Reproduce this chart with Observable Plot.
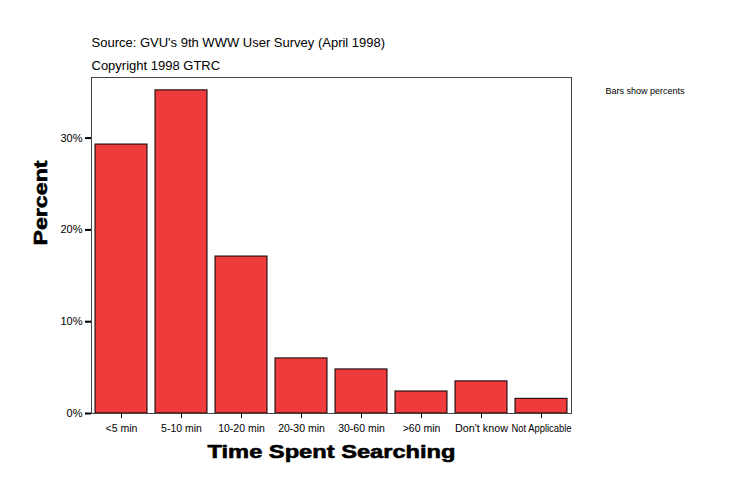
<!DOCTYPE html>
<html><head><meta charset="utf-8">
<script src="https://cdn.jsdelivr.net/npm/d3@7"></script>
<script src="https://cdn.jsdelivr.net/npm/@observablehq/plot@0.6"></script>
<style>
html,body{margin:0;padding:0;background:#fff;}
svg{display:block;}
</style>
</head><body>
<div id="chart"></div>
<script>
const categories = ["<5 min","5-10 min","10-20 min","20-30 min","30-60 min",">60 min","Don't know","Not Applicable"];
const percents = [29.3, 35.2, 17.1, 6.0, 4.8, 2.4, 3.5, 1.6];
const yTicks = [0, 10, 20, 30];
const yTickLabels = ["0%", "10%", "20%", "30%"];
const title = "Source: GVU's 9th WWW User Survey (April 1998)";
const subtitle = "Copyright 1998 GTRC";
const note = "Bars show percents";
const xLabel = "Time Spent Searching";
const yLabel = "Percent";

const data = categories.map((c, i) => ({category: c, value: percents[i]}));

const chart = Plot.plot({
  width: 734,
  height: 496,
  marginLeft: 91,
  marginRight: 163,
  marginTop: 77,
  marginBottom: 83,
  style: {fontFamily: "'Liberation Sans', Arial, sans-serif", fontSize: "11px", background: "#fff", color: "#000"},
  x: {domain: categories, paddingInner: 8/60, paddingOuter: 4/60, align: 0.5, label: null},
  y: {domain: [0, 36.6], label: null},
  marks: [
    Plot.barY(data, {x: "category", y: "value", fill: "#EE3B3B", stroke: "#000", strokeWidth: 1}),
    Plot.frame({stroke: "#444", strokeWidth: 1}),
    Plot.axisY({ticks: yTicks, tickFormat: (d) => yTickLabels[yTicks.indexOf(d)], tickSize: 6, tickPadding: 3, strokeWidth: 2, fontSize: 11, label: null}),
    Plot.axisX({tickSize: 5, tickPadding: 6, fontSize: 10.5, label: null, className: "xax"}),
    Plot.text([title], {frameAnchor: "top-left", dy: -40, text: d => d, textAnchor: "start", fontSize: 13}),
    Plot.text([subtitle], {frameAnchor: "top-left", dy: -17, text: d => d, textAnchor: "start", fontSize: 13}),
    Plot.text([note], {frameAnchor: "top-right", dx: 34, dy: 10, text: d => d, textAnchor: "start", fontSize: 9}),
    Plot.text([xLabel], {frameAnchor: "bottom", dy: 44, text: d => d, fontSize: 19, fontWeight: "bold", stroke: "#000", strokeWidth: 0.6, fill: "#000", className: "xlab"}),
    Plot.text([yLabel], {frameAnchor: "left", dx: -51, rotate: -90, text: d => d, fontSize: 19, fontWeight: "bold", stroke: "#000", strokeWidth: 0.6, fill: "#000", className: "ylab"})
  ]
});
document.getElementById("chart").appendChild(chart);
d3.select(chart).selectAll(".xlab text").attr("textLength", 248).attr("lengthAdjust", "spacingAndGlyphs");
d3.select(chart).selectAll(".ylab text").attr("textLength", 85).attr("lengthAdjust", "spacingAndGlyphs");
d3.select(chart).selectAll(".xax text").each(function() {
  const t = d3.select(this);
  if (t.text() === "Not Applicable") t.attr("textLength", 60).attr("lengthAdjust", "spacingAndGlyphs");
  if (t.text() === "Don't know") t.attr("textLength", 53).attr("lengthAdjust", "spacingAndGlyphs");
});
</script>
</body></html>
